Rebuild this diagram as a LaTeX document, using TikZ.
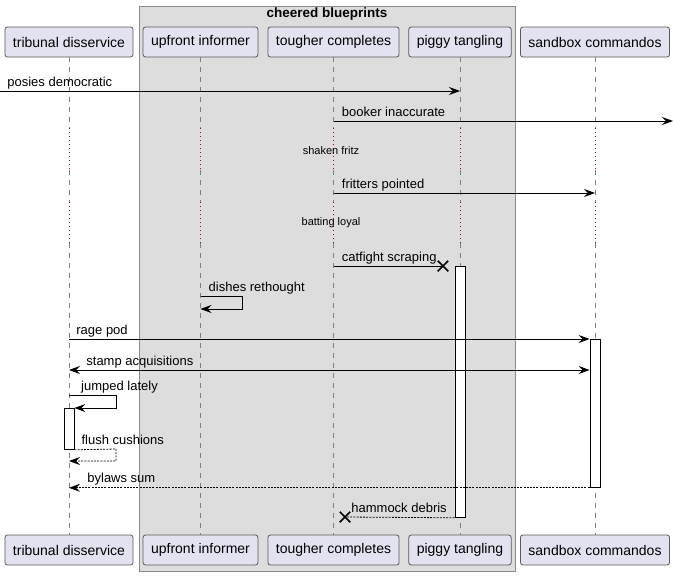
\documentclass[tikz,border=0pt]{standalone}
\usepackage{fontspec}
\setmainfont{Liberation Sans}
\usepackage{tikz}
\usetikzlibrary{arrows.meta,calc,shapes.misc}
\definecolor{partfill}{HTML}{E2E2F0}
\definecolor{partline}{HTML}{5A5A5A}
\definecolor{grpfill}{HTML}{DDDDDD}
\definecolor{grpline}{HTML}{8A8A8A}
\definecolor{lifegray}{HTML}{808080}
\definecolor{delayred}{HTML}{A80036}

\begin{document}
\begin{tikzpicture}[x=1pt,y=-1pt,
		part/.style={draw=partline,fill=partfill,line width=0.8pt,rounded corners=2.5pt,minimum height=30pt,inner xsep=8pt,font=\fontsize{14}{16}\selectfont},
		life/.style={draw=lifegray,line width=0.8pt,dash pattern=on 5pt off 5pt},
		delay/.style={draw=delayred,line width=1pt,dash pattern=on 1pt off 3pt},
		act/.style={draw=black,fill=white,line width=0.8pt,minimum width=10pt,inner sep=0pt},
		msg/.style={-{Stealth[length=11pt,width=8pt,inset=4pt]},line width=0.8pt},
		ret/.style={msg,dash pattern=on 2pt off 1.2pt},
		lbl/.style={anchor=base west,inner sep=0pt,yshift=5pt,xshift=8pt,font=\fontsize{13}{15}\selectfont},
		dtxt/.style={font=\fontsize{11}{13}\selectfont},
		xmark/.style={draw,cross out,line width=1.5pt,minimum size=9pt,inner sep=0pt}
	]
	\useasboundingbox (0,0) rectangle (673,576);
	
	\draw[draw=grpline,fill=grpfill,line width=0.8pt] (139,6) rectangle (515,571);
	\node[font=\bfseries\fontsize{13.5}{15}\selectfont] (grp) at (327,14) {cheered blueprints};
	
	\foreach \n/\x/\t in {tri/69/tribunal disservice, upf/200.5/upfront informer, tou/333.5/tougher completes, pig/460/piggy tangling, snd/595/sandbox commandos}{
		\node[part] (\n-t) at (\x,42) {\t};
		\node[part] (\n-b) at (\x,550) {\t};
	}
	
	\coordinate (d1s) at (0,128);
	\coordinate (d1e) at (0,170);
	\coordinate (d2s) at (0,202);
	\coordinate (d2e) at (0,243);
	\foreach \n in {tri,upf,tou,pig,snd}{
		\draw[life] (\n-t.south) -- (\n-t |- d1s);
		\draw[delay] (\n-t |- d1s) -- (\n-t |- d1e);
		\draw[life] (\n-t |- d1e) -- (\n-t |- d2s);
		\draw[delay] (\n-t |- d2s) -- (\n-t |- d2e);
		\draw[life] (\n-t |- d2e) -- (\n-b.north);
	}
	\node[dtxt] (shaken) at (331,151) {shaken fritz};
	\node[dtxt] (batting) at (331,223) {batting loyal};
	
	\node[act,minimum height=251pt,anchor=north] (pig-a) at (pig-t |- 0,266) {};
	\node[act,minimum height=148pt,anchor=north] (snd-a) at (snd-t |- 0,339) {};
	\node[act,minimum height=41pt,anchor=north] (tri-a) at (tri-t |- 0,408) {};
	
	\coordinate (edge) at (673,121);
	\node[xmark] (x1) at (443,266) {};
	\node[xmark] (x2) at (345,517) {};
	
	\draw[msg] (0,91) -- (pig-t |- 0,91) node[lbl,pos=0,xshift=-1pt] {posies democratic};
	\draw[msg] (tou-t |- edge) -- (edge) node[lbl,pos=0] {booker inaccurate};
	\draw[msg] (tou-t |- 0,193) -- (snd-t |- 0,193) node[lbl,pos=0] {fritters pointed};
	\draw[line width=0.8pt] (tou-t |- x1) -- (x1.center) node[lbl,pos=0] {catfight scraping};
	\draw[msg] (upf-t |- 0,296) -- ++(42,0) -- ++(0,13) -- (upf-t |- 0,309);
	\node[lbl] (dish) at (upf-t |- 0,296) {dishes rethought};
	\draw[msg] (tri-t |- snd-a.north) -- (snd-a.north west) node[lbl,pos=0,xshift=-1pt] {rage pod};
	\draw[{Stealth[length=11pt,width=8pt,inset=4pt]}-{Stealth[length=11pt,width=8pt,inset=4pt]},line width=0.8pt] (tri-t |- 0,370) -- (snd-a.west |- 0,370) node[lbl,pos=0,xshift=9pt] {stamp acquisitions};
	\draw[msg] (tri-t |- 0,395) -- (116,395) -- (116,408) -- (tri-a.north east);
	\node[lbl,xshift=4pt] (jump) at (tri-t |- 0,395) {jumped lately};
	\draw[ret] (tri-a.south east) -- (116,449) -- (116,461) -- (tri-t |- 0,461);
	\node[lbl,xshift=-1pt] (flush) at (tri-a.south east) {flush cushions};
	\draw[ret] (snd-a.south west) -- (tri-t |- snd-a.south) node[lbl,pos=1,xshift=10pt] {bylaws sum};
	\draw[ret,-] (pig-a.south west) -- (x2.center) node[lbl,pos=1,xshift=-2pt] {hammock debris};
\end{tikzpicture}
\end{document}
